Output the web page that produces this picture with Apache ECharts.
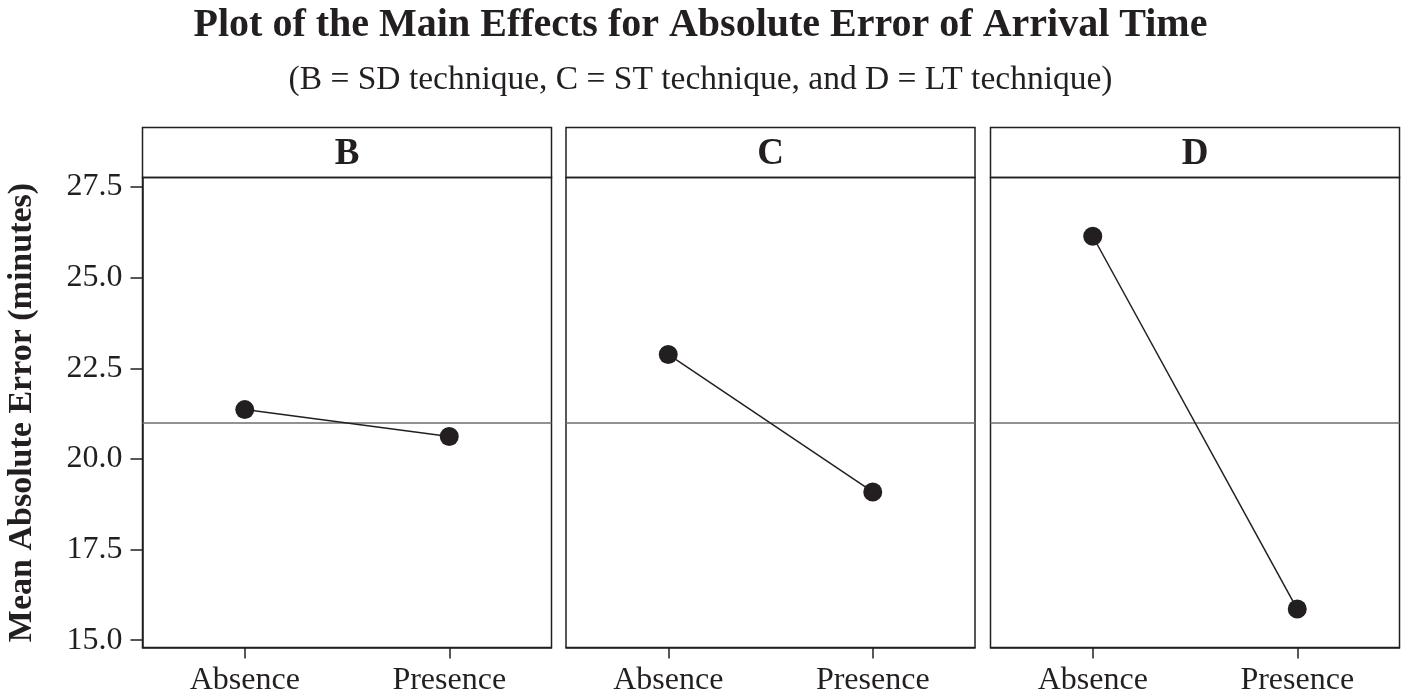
<!DOCTYPE html>
<html>
<head>
<meta charset="utf-8">
<script src="https://cdn.jsdelivr.net/npm/echarts@6/dist/echarts.min.js"></script>
<style>
html,body{margin:0;padding:0;background:#fff;}
#chart{width:1401px;height:700px;}
</style>
</head>
<body>
<div id="chart"></div>
<script>
// ---- data ----
const categories = ['Absence', 'Presence'];
const factors = ['B', 'C', 'D'];
const valuesB = [21.36, 20.62];
const valuesC = [22.88, 19.09];
const valuesD = [26.14, 15.86];
const grandMean = 20.99;
const yTicks = [15.0, 17.5, 20.0, 22.5, 25.0, 27.5];
const titleText = 'Plot of the Main Effects for Absolute Error of Arrival Time';
const subtitleText = '(B = SD technique, C = ST technique, and D = LT technique)';
const yAxisTitle = 'Mean Absolute Error (minutes)';

// ---- layout ----
const seriesValues = [valuesB, valuesC, valuesD];
const panelLefts = [142.5, 566, 990.5];
const panelWidth = 409;
const headerTop = 127.5;
const plotTop = 177.5;
const plotHeight = 470;
const yMin = 14.8, yMax = 27.76;
const ink = '#231f20';
const serif = '"Liberation Serif", "DejaVu Serif", serif';

const chart = echarts.init(document.getElementById('chart'), null, {renderer: 'canvas'});

const grids = [], xAxes = [], yAxes = [], series = [], graphics = [];
factors.forEach((f, i) => {
  grids.push({left: panelLefts[i], top: plotTop, width: panelWidth, height: plotHeight,
    containLabel: false, outerBoundsMode: 'none',
    show: true, borderColor: ink, borderWidth: 1.5, backgroundColor: 'transparent'});
  xAxes.push({type: 'category', gridIndex: i, data: categories, boundaryGap: true,
    axisLine: {show: true, lineStyle: {color: ink, width: 1.5}},
    axisTick: {show: true, alignWithLabel: true, inside: false, length: 11, lineStyle: {color: ink, width: 1.5}},
    axisLabel: {color: ink, fontFamily: serif, fontSize: 32, margin: 17},
    splitLine: {show: false}});
  yAxes.push({type: 'value', gridIndex: i, min: yMin, max: yMax,
    axisLine: {show: i === 0, lineStyle: {color: ink, width: 1.5}},
    axisTick: {show: i === 0, length: 12, customValues: yTicks, lineStyle: {color: ink, width: 1.5}},
    axisLabel: {show: i === 0, customValues: yTicks, color: ink, fontFamily: serif, fontSize: 32, margin: 20,
      formatter: v => v.toFixed(1)},
    splitLine: {show: false},
    name: i === 0 ? yAxisTitle : '', nameLocation: 'middle', nameGap: 103,
    nameTextStyle: {color: ink, fontFamily: serif, fontSize: 34, fontWeight: 'bold'}});
  series.push({type: 'line', xAxisIndex: i, yAxisIndex: i, data: seriesValues[i],
    symbol: 'circle', symbolSize: 19, showSymbol: true,
    lineStyle: {color: ink, width: 1.5}, itemStyle: {color: ink},
    animation: false, silent: true, z: 5,
    markLine: {silent: true, symbol: ['none', 'none'], label: {show: false},
      lineStyle: {color: '#6d6e71', width: 1.5, type: 'solid'},
      data: [{yAxis: grandMean}], animation: false, z: 2}});
  graphics.push({type: 'rect', x: 0, y: 0,
    shape: {x: panelLefts[i], y: headerTop, width: panelWidth, height: plotTop - headerTop},
    style: {fill: 'none', stroke: ink, lineWidth: 1.5}, z: 10});
  graphics.push({type: 'text', x: panelLefts[i] + panelWidth / 2, y: (headerTop + plotTop) / 2 + 2,
    style: {text: f, fill: ink, font: 'bold 37px ' + serif, textAlign: 'center', textVerticalAlign: 'middle'}, z: 10});
});

chart.setOption({
  animation: false,
  backgroundColor: '#fff',
  title: [
    {text: titleText, left: 'center', top: 1,
      textStyle: {color: ink, fontFamily: serif, fontSize: 40, fontWeight: 'bold'}},
    {text: subtitleText, left: 'center', top: 58,
      textStyle: {color: ink, fontFamily: serif, fontSize: 33.5, fontWeight: 'normal'}}
  ],
  grid: grids,
  xAxis: xAxes,
  yAxis: yAxes,
  series: series,
  graphic: graphics
});
</script>
</body>
</html>
